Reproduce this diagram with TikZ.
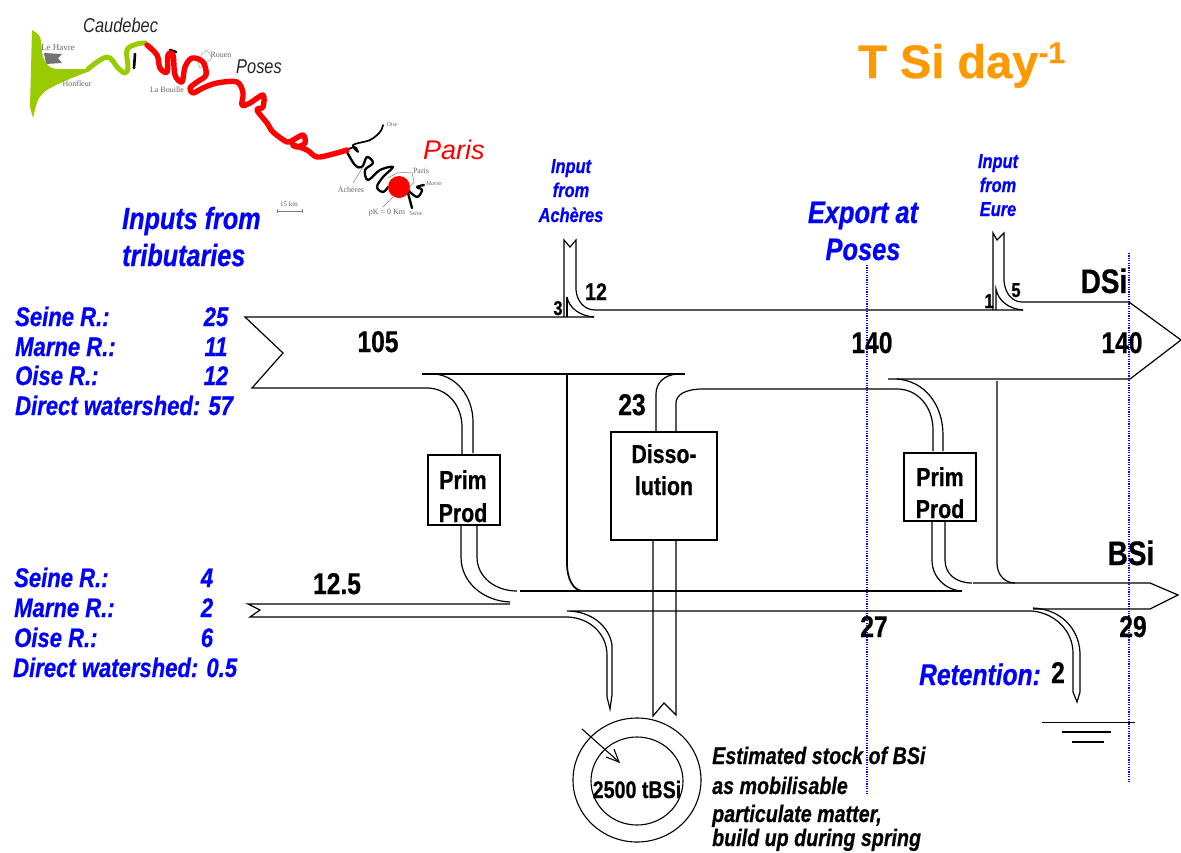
\documentclass[tikz,border=0pt]{standalone}
\usepackage{fontspec}
\setmainfont{Liberation Sans}[BoldFeatures={FakeBold=0.5}]
\newfontfamily\cond{Liberation Sans}[FakeStretch=0.82,BoldFeatures={FakeBold=0.6},BoldItalicFeatures={FakeBold=0.6}]
\newfontfamily\mapf{Liberation Serif}
\usetikzlibrary{arrows.meta}
\definecolor{blueT}{RGB}{0,0,255}
\definecolor{orangeT}{RGB}{255,153,0}
\definecolor{greenR}{RGB}{153,204,0}
\definecolor{redR}{RGB}{255,0,0}
\tikzset{
 flow/.style={line width=1.2pt,black,line join=miter},
 heavy/.style={line width=1.7pt,black},
 box/.style={draw=black,line width=1.2pt,fill=white},
 base/.style={inner sep=0pt,anchor=base},
 left/.style={inner sep=0pt,anchor=base west},
 num/.style={base,font=\cond\bfseries\fontsize{30}{30}\selectfont},
 lab/.style={base,font=\cond\bfseries\fontsize{26}{26}\selectfont},
 src/.style={left,text=blueT,font=\cond\bfseries\itshape\fontsize{26.9}{26.9}\selectfont},
 srcv/.style={base,text=blueT,font=\cond\bfseries\itshape\fontsize{26.9}{26.9}\selectfont},
 big/.style={base,text=blueT,font=\cond\bfseries\itshape\fontsize{31}{31}\selectfont},
 inp/.style={base,text=blueT,font=\cond\bfseries\itshape\fontsize{20}{20}\selectfont},
 est/.style={left,font=\cond\bfseries\itshape\fontsize{24}{24}\selectfont},
 tiny/.style={base,text=black!60,font=\mapf\fontsize{8}{8}\selectfont},
 guide/.style={blueT,line width=1.2pt,dash pattern=on 1.2pt off 1.2pt},
 rivblack/.style={black,line width=2.3pt,line cap=round,line join=round},
}
\begin{document}
\begin{tikzpicture}[x=1pt,y=-1pt]
\useasboundingbox (0,0) rectangle (1181,852);
\clip (0,0) rectangle (1181,852);
% ---- map ----
\fill[black!55] (44,53) -- (62,54) -- (58,58) -- (62,63) -- (46,64) -- cycle;
\draw[black!35,line width=.5pt] (202,54) -- (207,50) -- (212,58) -- (200,68) -- (198,62) -- cycle;
\draw[rivblack,line width=2.6pt] (134,68) -- (135,54);
\draw[rivblack,line width=3pt] (160,70) -- (167,73);
\draw[rivblack,line width=2.6pt] (170,50) -- (176,52);
\draw[rivblack] plot[smooth,tension=.6] coordinates {(347,152) (355,165) (362,167) (367,157) (373,163) (365,170) (368,180) (380,170) (393,167) (383,177) (377,187) (383,192) (388,187)};
\draw[rivblack,line width=1.7pt] plot[smooth,tension=.6] coordinates {(347,150) (355,147) (358,152) (353,145) (370,140) (380,132) (383,125)};
\draw[rivblack] plot[smooth,tension=.6] coordinates {(408,190) (417,197) (422,190) (417,187) (424,185)};
\draw[rivblack] (408,193) -- (412,208);
\fill[greenR] plot[smooth,tension=.5] coordinates {(32,30) (40,37) (43,57) (50,67) (60,69) (90,69)} -- (90,71) -- plot[smooth,tension=.5] coordinates {(90,71) (67,80) (47,90) (38,100) (33,118)} -- (30,107) -- cycle;
\draw[greenR,line width=5pt,line cap=round,line join=round] plot[smooth,tension=.6] coordinates {(88,69) (107,57) (118,68) (125,73) (128,67) (127,50) (137,44) (145,43)};
\draw[redR,line width=5.4pt,line cap=round,line join=round] plot[smooth,tension=.55] coordinates {(147,45) (157,55) (160,68) (167,72) (168,55) (173,55) (175,75) (182,82) (185,67) (192,58) (203,62) (206,75) (197,82) (190,88) (193,93) (203,88) (217,83) (237,82) (243,93) (242,105) (250,103) (263,95) (263,107) (257,110) (267,123) (273,132) (287,142) (293,140) (303,135) (305,143) (297,147) (293,145) (307,150) (317,157) (333,154) (347,150)};
\fill[redR] (399,187) circle (11);
\draw[black!50,line width=.5pt] (412,172) -- (397,173) -- (388,178);
\draw[black!50,line width=.5pt] (412,172) -- (414,182) -- (409,188);
\draw[black!50,line width=.5pt] (353,183) -- (363,167);
\draw[black!50,line width=.5pt] (383,207) -- (393,197);
\draw[black!50,line width=.5pt] (277,209) -- (277,213) (277,211) -- (302,211) (302,209) -- (302,213);
\node[tiny,font=\mapf\fontsize{9}{9}\selectfont] (lh) at (58,50) {Le Havre};
\node[tiny] (ho) at (77,86) {Honfleur};
\node[tiny] (lb) at (167,92) {La Bouille};
\node[tiny] (ro) at (221,57) {Rouen};
\node[tiny] (ac) at (351,192) {Achères};
\node[tiny] (pa) at (421,173) {Paris};
\node[tiny,font=\mapf\itshape\fontsize{6}{6}\selectfont] (ma) at (434,185) {Marne};
\node[tiny,font=\mapf\itshape\fontsize{6}{6}\selectfont] (oi) at (392,126) {Oise};
\node[tiny,font=\mapf\itshape\fontsize{6}{6}\selectfont] (se) at (416,215) {Seine};
\node[tiny] (pk) at (387,214) {pK = 0 Km};
\node[tiny,font=\mapf\fontsize{7}{7}\selectfont] (km) at (289,206) {15 km};
\node[left,font=\cond\itshape\fontsize{20}{20}\selectfont,text=black!85] (caud) at (83,32) {Caudebec};
\node[left,font=\cond\itshape\fontsize{20}{20}\selectfont,text=black!85] (pos) at (236,73) {Poses};
\node[left,font=\itshape\fontsize{27}{27}\selectfont,text=redR] (par) at (423,159) {Paris};
% ---- title ----
\node[left,text=orangeT,font=\bfseries\fontsize{47}{47}\selectfont] (title) at (858,78) {T Si day\raisebox{15pt}{\fontsize{30}{30}\selectfont -1}};
% ---- guides ----
\draw[guide] (867,265) -- (867,795);
\draw[guide] (1129,253) -- (1129,782);
% ---- DSi ----
\draw[flow] (594,317) -- (245,317) -- (283,353) -- (252,388) -- (427,388)
  .. controls (447,388) and (462,405) .. (462,427) -- (462,455);
\draw[flow] (422,374) -- (685,374);
\draw[flow] (435,374) .. controls (456,376) and (473,396) .. (473,422) -- (473,453);
\draw[flow] (594,317) .. controls (580,316) and (569,308) .. (567,297);
\draw[flow] (567,297) -- (567,317);
\draw[flow] (564,317) -- (564,240) -- (570,247) -- (576,240) -- (576,290)
  .. controls (577,302) and (585,310) .. (595,310) -- (1023,310);
\draw[flow] (1023,310) .. controls (1008,309) and (998,300) .. (996,289) -- (996,310);
\draw[flow] (993,310) -- (993,233) -- (997,240) -- (1004,233) -- (1004,281)
  .. controls (1005,293) and (1012,302) .. (1022,302) -- (1129,302) -- (1181,340) -- (1130,379) -- (888,379);
\draw[flow] (677,374) .. controls (664,375) and (656,383) .. (656,394) -- (656,432);
\draw[flow] (676,437) -- (676,403) .. controls (676,395) and (685,389) .. (703,389) -- (897,389)
  .. controls (918,389) and (933,407) .. (933,430) -- (933,451);
\draw[flow] (897,379) .. controls (925,381) and (943,405) .. (943,435) -- (943,451);
\draw[flow] (997,381) -- (997,563) .. controls (997,575) and (1005,583) .. (1015,583);
% ---- BSi ----
\draw[heavy] (567,374) -- (567,563) .. controls (567,580) and (574,591) .. (583,591);
\draw[flow] (461,525) -- (461,557) .. controls (461,583) and (484,601) .. (510,602);
\draw[flow] (477,525) -- (477,557) .. controls (477,577) and (495,591) .. (517,591);
\draw[flow] (520,591) -- (962,591);
\draw[flow] (510,604) -- (248,604) -- (260,610) -- (250,617) -- (568,617)
  .. controls (590,618) and (607,634) .. (607,655) -- (607,697) -- (610,709) -- (612,695) -- (612,645)
  .. controls (609,625) and (590,611) .. (567,611) -- (1032,611)
  .. controls (1055,613) and (1073,631) .. (1073,653) -- (1073,692) -- (1077,702) -- (1080,692) -- (1080,653)
  .. controls (1079,628) and (1060,609) .. (1033,608);
\draw[flow] (1033,609) -- (1150,609) -- (1178,595) -- (1150,583) -- (973,583);
\draw[flow] (932,521) -- (932,560) .. controls (932,577) and (945,590) .. (962,591);
\draw[flow] (945,521) -- (945,560) .. controls (945,574) and (956,583) .. (972,583);
\draw[flow] (653,540) -- (653,716) -- (664,703) -- (676,715) -- (676,540);
% ---- ground ----
\draw[flow,line width=1pt] (1042,722) -- (1135,722);
\draw[flow] (1062,732) -- (1111,732);
\draw[flow] (1072,742) -- (1104,742);
% ---- stock ----
\draw[line width=1.1pt] (637,780) ellipse (64 and 62);
\draw[line width=1.1pt] (637,781) ellipse (46 and 44);
\draw[line width=1.1pt] (582,729) -- (619,762);
\draw[line width=1.1pt] (606,757) -- (619,762) -- (614,749);
% ---- boxes ----
\node[box,minimum width=72pt,minimum height=70pt,inner sep=0pt] (pp1) at (464,490) {};
\node[box,minimum width=106pt,minimum height=108pt,inner sep=0pt] (dis) at (664,486) {};
\node[box,minimum width=72pt,minimum height=68pt,inner sep=0pt] (pp2) at (940,487) {};
\node[lab] (t1) at (463,489) {Prim};
\node[lab] (t2) at (463,522) {Prod};
\node[lab] (t3) at (940,486) {Prim};
\node[lab] (t4) at (940,518) {Prod};
\node[lab] (t5) at (664,463) {Disso-};
\node[lab] (t6) at (664,495) {lution};
% ---- numbers ----
\node[num] (n105) at (378,352) {105};
\node[num,font=\cond\bfseries\fontsize{24}{24}\selectfont] (n12) at (596,300) {12};
\node[num,font=\cond\bfseries\fontsize{20}{20}\selectfont] (n3) at (558,315) {3};
\node[num] (n23) at (632,415) {23};
\node[num] (n140a) at (872,353) {140};
\node[num] (n140b) at (1122,353) {140};
\node[num,font=\cond\bfseries\fontsize{20}{20}\selectfont] (n1) at (989,308) {1};
\node[num,font=\cond\bfseries\fontsize{20}{20}\selectfont] (n5) at (1016,297) {5};
\node[num,font=\cond\bfseries\fontsize{34}{34}\selectfont] (dsi) at (1104,293) {DSi};
\node[num,font=\cond\bfseries\fontsize{34}{34}\selectfont] (bsi) at (1131,565) {BSi};
\node[num] (n125) at (337,594) {12.5};
\node[num] (n27) at (874,637) {27};
\node[num] (n29) at (1133,637) {29};
\node[num] (n2) at (1058,683) {2};
\node[num,font=\cond\bfseries\fontsize{24}{24}\selectfont] (stock) at (637,798) {2500 tBSi};
% ---- blue text ----
\node[left,text=blueT,font=\cond\bfseries\itshape\fontsize{30.7}{30.7}\selectfont] (i1) at (122,229) {Inputs from};
\node[left,text=blueT,font=\cond\bfseries\itshape\fontsize{30.7}{30.7}\selectfont] (i2) at (122,266) {tributaries};
\node[big] (e1) at (863,223) {Export at};
\node[big] (e2) at (863,260) {Poses};
\node[inp] (a1) at (571,173) {Input};
\node[inp] (a2) at (571,197) {from};
\node[inp] (a3) at (571,222) {Achères};
\node[inp] (u1) at (998,168) {Input};
\node[inp] (u2) at (998,192) {from};
\node[inp] (u3) at (998,216) {Eure};
\node[left,text=blueT,font=\cond\bfseries\itshape\fontsize{30}{30}\selectfont] (ret) at (919,685) {Retention:};
\node[src] (s1) at (15,326) {Seine R.:};
\node[srcv] (s1v) at (216,326) {25};
\node[src] (s2) at (15,356) {Marne R.:};
\node[srcv] (s2v) at (216,356) {11};
\node[src] (s3) at (15,385) {Oise R.:};
\node[srcv] (s3v) at (216,385) {12};
\node[src] (s4) at (15,415) {Direct watershed: 57};
\node[src] (b1) at (14,587) {Seine R.:};
\node[srcv] (b1v) at (207,587) {4};
\node[src] (b2) at (14,617) {Marne R.:};
\node[srcv] (b2v) at (207,617) {2};
\node[src] (b3) at (14,647) {Oise R.:};
\node[srcv] (b3v) at (207,647) {6};
\node[src] (b4) at (13,677) {Direct watershed: 0.5};
% ---- estimated ----
\node[est] (x1) at (712,764) {Estimated stock of BSi};
\node[est] (x2) at (712,794) {as mobilisable};
\node[est] (x3) at (712,822) {particulate matter,};
\node[est] (x4) at (712,846) {build up during spring};
\end{tikzpicture}
\end{document}
